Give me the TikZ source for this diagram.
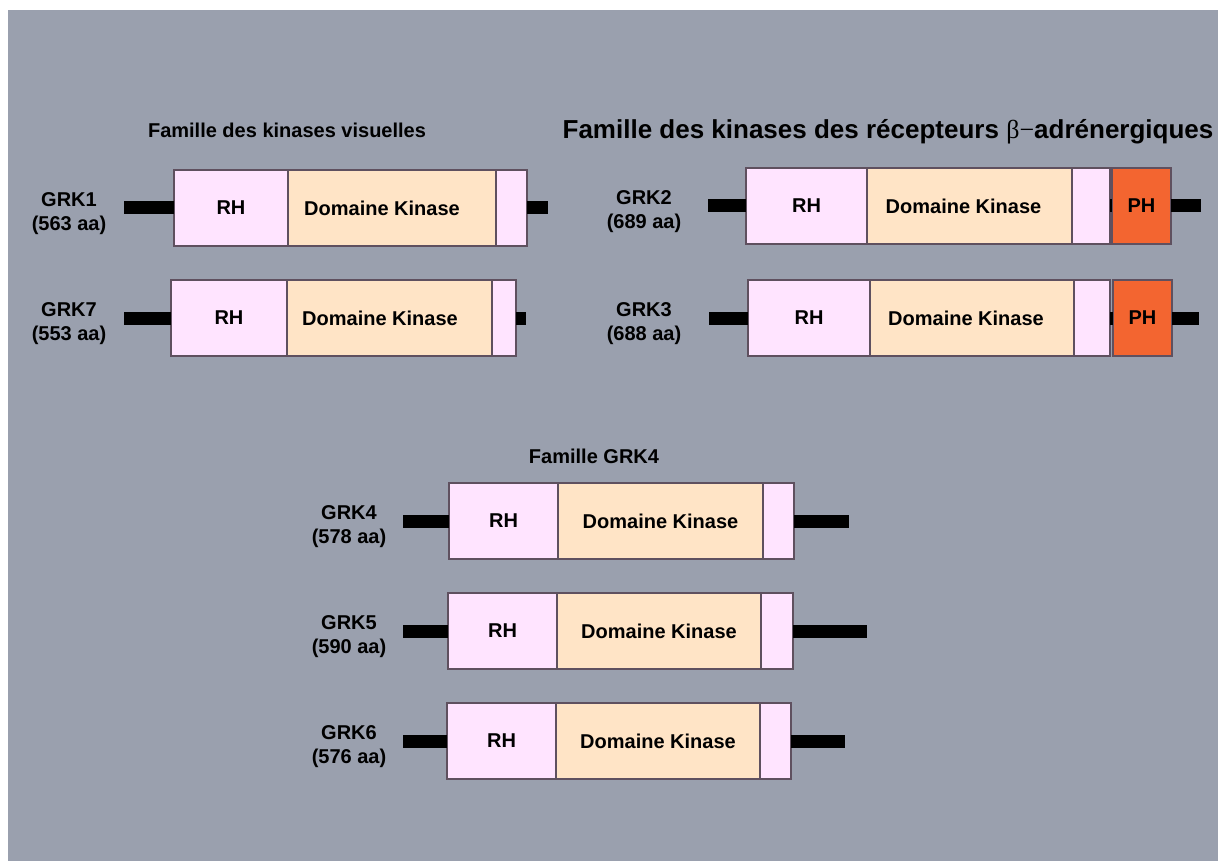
\documentclass[tikz,border=0pt]{standalone}
\usepackage{fontspec}
\setmainfont{Liberation Sans}
\newfontfamily\symfont{Liberation Serif}
\definecolor{bg}{RGB}{154,160,174}
\definecolor{rhpink}{RGB}{255,228,255}
\definecolor{kinpeach}{RGB}{255,228,198}
\definecolor{phorange}{RGB}{243,101,48}
\definecolor{edge}{RGB}{95,80,95}
\begin{document}
\begin{tikzpicture}[x=1pt,y=-1pt,
  seg/.style={draw=edge, line width=1.2pt, inner sep=0pt, outer sep=0pt, anchor=west,
              minimum height=76pt, font=\fontsize{20}{24}\selectfont\bfseries},
  rh/.style={seg, fill=rhpink},
  kin/.style={seg, fill=kinpeach},
  ctail/.style={seg, fill=rhpink},
  ph/.style={seg, fill=phorange},
  linker/.style={line width=13pt, black},
  grklabel/.style={align=center, font=\fontsize{20}{24}\selectfont\bfseries, inner sep=0pt},
  famtitle/.style={anchor=base, font=\fontsize{20}{24}\selectfont\bfseries, inner sep=0pt}]
\useasboundingbox (0,0) rectangle (1218,861);
\fill[bg] (8,10) rectangle (1218,861);

% titles
\node[famtitle] (t1) at (287,138) {Famille des kinases visuelles};
\node[famtitle, font=\fontsize{26}{28}\selectfont\bfseries] (t2) at (888,139) {Famille des kinases des r\'ecepteurs {\symfont\mdseries β−}adr\'energiques};
\node[famtitle] (t3) at (594,463) {Famille GRK4};

% GRK1
\node[grklabel] (l1) at (69,214) {GRK1\\(563 aa)};
\node[rh, minimum width=114pt] (g1rh) at (174,208) {RH};
\node[kin, minimum width=208pt] (g1k) at (g1rh.east) {Domaine Kinase\kern20pt};
\node[ctail, minimum width=31pt] (g1t) at (g1k.east) {};
\coordinate (g1a) at (124,208); \coordinate (g1b) at (548,208);
\draw[linker] (g1a) -- (g1rh.west);
\draw[linker] (g1t.east) -- (g1b);

% GRK7
\node[grklabel] (l7) at (69,324) {GRK7\\(553 aa)};
\node[rh, minimum width=116pt] (g7rh) at (171,318) {RH};
\node[kin, minimum width=205pt] (g7k) at (g7rh.east) {Domaine Kinase\kern19pt};
\node[ctail, minimum width=24pt] (g7t) at (g7k.east) {};
\coordinate (g7a) at (124,318); \coordinate (g7b) at (526,318);
\draw[linker] (g7a) -- (g7rh.west);
\draw[linker] (g7t.east) -- (g7b);

% GRK2
\node[grklabel] (l2) at (644,212) {GRK2\\(689 aa)};
\node[rh, minimum width=121pt] (g2rh) at (746,206) {RH};
\node[kin, minimum width=205pt] (g2k) at (g2rh.east) {Domaine Kinase\kern12pt};
\node[ctail, minimum width=38pt] (g2t) at (g2k.east) {};
\node[ph, minimum width=59pt] (g2ph) at (1112,206) {PH};
\coordinate (g2a) at (708,206); \coordinate (g2b) at (1201,206);
\draw[linker] (g2a) -- (g2rh.west);
\draw[linker] (g2t.east) -- (g2ph.west);
\draw[linker] (g2ph.east) -- (g2b);

% GRK3
\node[grklabel] (l3) at (644,324) {GRK3\\(688 aa)};
\node[rh, minimum width=122pt] (g3rh) at (748,318) {RH};
\node[kin, minimum width=204pt] (g3k) at (g3rh.east) {Domaine Kinase\kern12pt};
\node[ctail, minimum width=36pt] (g3t) at (g3k.east) {};
\node[ph, minimum width=59pt] (g3ph) at (1113,318) {PH};
\coordinate (g3a) at (709,318); \coordinate (g3b) at (1199,318);
\draw[linker] (g3a) -- (g3rh.west);
\draw[linker] (g3t.east) -- (g3ph.west);
\draw[linker] (g3ph.east) -- (g3b);

% GRK4
\node[grklabel] (l4) at (349,527) {GRK4\\(578 aa)};
\node[rh, minimum width=109pt] (g4rh) at (449,521) {RH};
\node[kin, minimum width=205pt] (g4k) at (g4rh.east) {Domaine Kinase};
\node[ctail, minimum width=31pt] (g4t) at (g4k.east) {};
\coordinate (g4a) at (403,521); \coordinate (g4b) at (849,521);
\draw[linker] (g4a) -- (g4rh.west);
\draw[linker] (g4t.east) -- (g4b);

% GRK5
\node[grklabel] (l5) at (349,637) {GRK5\\(590 aa)};
\node[rh, minimum width=109pt] (g5rh) at (448,631) {RH};
\node[kin, minimum width=204pt] (g5k) at (g5rh.east) {Domaine Kinase};
\node[ctail, minimum width=32pt] (g5t) at (g5k.east) {};
\coordinate (g5a) at (403,631); \coordinate (g5b) at (867,631);
\draw[linker] (g5a) -- (g5rh.west);
\draw[linker] (g5t.east) -- (g5b);

% GRK6
\node[grklabel] (l6) at (349,747) {GRK6\\(576 aa)};
\node[rh, minimum width=109pt] (g6rh) at (447,741) {RH};
\node[kin, minimum width=204pt] (g6k) at (g6rh.east) {Domaine Kinase};
\node[ctail, minimum width=31pt] (g6t) at (g6k.east) {};
\coordinate (g6a) at (403,741); \coordinate (g6b) at (845,741);
\draw[linker] (g6a) -- (g6rh.west);
\draw[linker] (g6t.east) -- (g6b);
\end{tikzpicture}
\end{document}
